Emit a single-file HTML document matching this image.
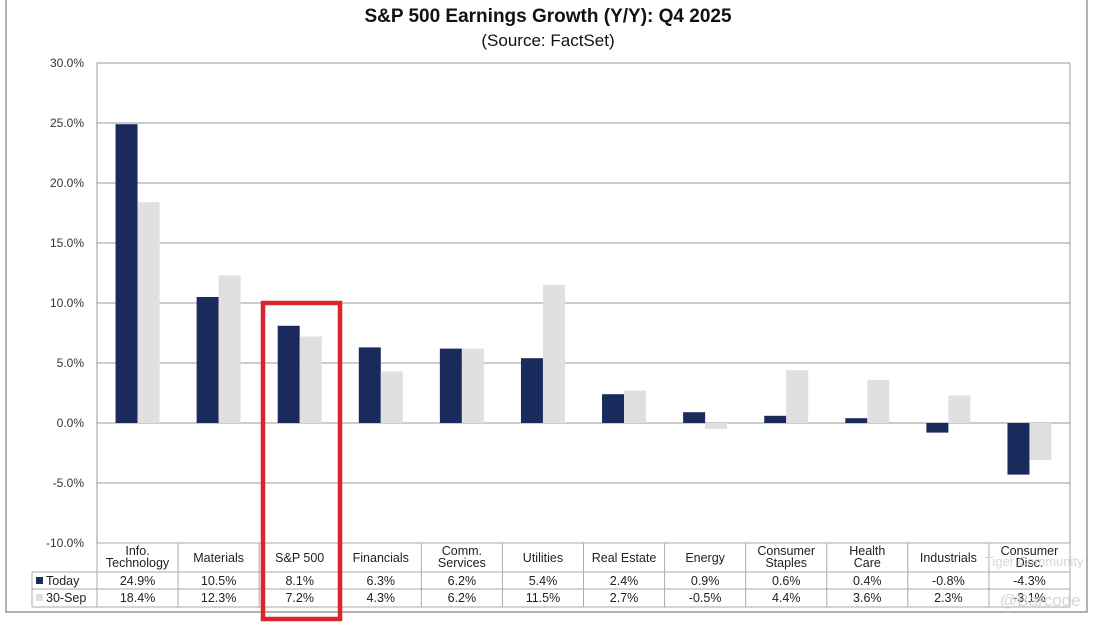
<!DOCTYPE html>
<html><head><meta charset="utf-8"><style>
body{margin:0;background:#fff;width:1116px;height:624px;overflow:hidden;font-family:"Liberation Sans",Arial,sans-serif}
svg text{font-family:"Liberation Sans",Arial,sans-serif}
</style></head><body>
<svg id="c" width="1116" height="624">
<rect x="6" y="-2" width="1081" height="614" fill="none" stroke="#999" stroke-width="1.5"/>
<text x="548" y="22" text-anchor="middle" font-size="19" font-weight="bold" fill="#111">S&amp;P 500 Earnings Growth (Y/Y): Q4 2025</text>
<text x="548" y="46" text-anchor="middle" font-size="17" fill="#111">(Source: FactSet)</text>
<g id="grid"></g><g id="bars"></g><g id="table"></g>
<rect x="263" y="303" width="77" height="316" fill="none" stroke="#d9262c" stroke-width="4.5"/>
<text x="985" y="566" font-size="13" fill="#ccc" opacity="0.8">Tiger Community</text>
<text x="1000" y="606" font-size="17" fill="#ccc" opacity="0.8">@Barcode</text>
</svg>
<script>
const categories=[["Info.","Technology"],["Materials"],["S&P 500"],["Financials"],["Comm.","Services"],["Utilities"],["Real Estate"],["Energy"],["Consumer","Staples"],["Health","Care"],["Industrials"],["Consumer","Disc."]];
const today=[24.9,10.5,8.1,6.3,6.2,5.4,2.4,0.9,0.6,0.4,-0.8,-4.3];
const sep30=[18.4,12.3,7.2,4.3,6.2,11.5,2.7,-0.5,4.4,3.6,2.3,-3.1];
const ticks=[30,25,20,15,10,5,0,-5,-10];
const NS="http://www.w3.org/2000/svg";
const L=97,R=1070,colW=(R-L)/12;
const y=v=>423-v*12;
function mk(t,a,p,txt){const e=document.createElementNS(NS,t);for(const k in a)e.setAttribute(k,a[k]);if(txt!==undefined)e.textContent=txt;p.appendChild(e);return e;}
const G=document.getElementById('grid'),B=document.getElementById('bars'),T=document.getElementById('table');
ticks.forEach(t=>{
 const ln=mk('line',{x1:L,x2:R,y1:y(t),y2:y(t),stroke:'#999','stroke-width':1},G);
 
 
 const tx=mk('text',{x:84,y:y(t)+4,'text-anchor':'end','font-size':12,fill:'#333'},G,t.toFixed(1)+'%');
 
 
});
const ax=mk('line',{x1:L,x2:L,y1:y(30),y2:y(-10),stroke:'#999'},G);


const rx=mk('line',{x1:R,x2:R,y1:y(30),y2:y(-10),stroke:'#999'},G);


categories.forEach((c,i)=>{
 const cx=L+colW*(i+0.5);
 [[today[i],'#1b2a5c',cx-22],[sep30[i],'#e0e0e0',cx]].forEach(([v,col,x0],j)=>{
  const r=mk('rect',{x:x0,width:22,y:Math.min(y(v),y(0)),height:Math.abs(y(v)-y(0)),fill:col},B);
  
  
 });
});
const tTop=543,r1=572,r2=589,bot=607;
[[L,tTop,R,tTop],[32,r1,R,r1],[32,r2,R,r2],[32,bot,R,bot],[32,r1,32,bot]].forEach(a=>{
 const l=mk('line',{x1:a[0],y1:a[1],x2:a[2],y2:a[3],stroke:'#aaa'},T);
 
 
});
for(let i=0;i<=12;i++){const l=mk('line',{x1:L+colW*i,x2:L+colW*i,y1:tTop,y2:bot,stroke:'#aaa'},T);
 
 }
const fmt=v=>v.toFixed(1)+'%';
categories.forEach((c,i)=>{
 const cx=L+colW*(i+0.5);
 c.forEach((s,k)=>{const t=mk('text',{x:cx,y:c.length==1?562:555+k*12,'text-anchor':'middle','font-size':12.5,fill:'#222'},T,s);
  
  });
 const a=mk('text',{x:cx,y:585,'text-anchor':'middle','font-size':12.5,fill:'#222'},T,fmt(today[i]));
 
 
 const b=mk('text',{x:cx,y:602,'text-anchor':'middle','font-size':12.5,fill:'#222'},T,fmt(sep30[i]));
 
 
});
[['Today','#1b2a5c',585],['30-Sep','#e0e0e0',602]].forEach(([n,col,yy])=>{
 const s=mk('rect',{x:36,y:yy-8,width:7,height:7,fill:col},T);
 
 
 const t=mk('text',{x:46,y:yy,'font-size':12.5,fill:'#222'},T,n);
 
 
});
</script>
</body></html>
